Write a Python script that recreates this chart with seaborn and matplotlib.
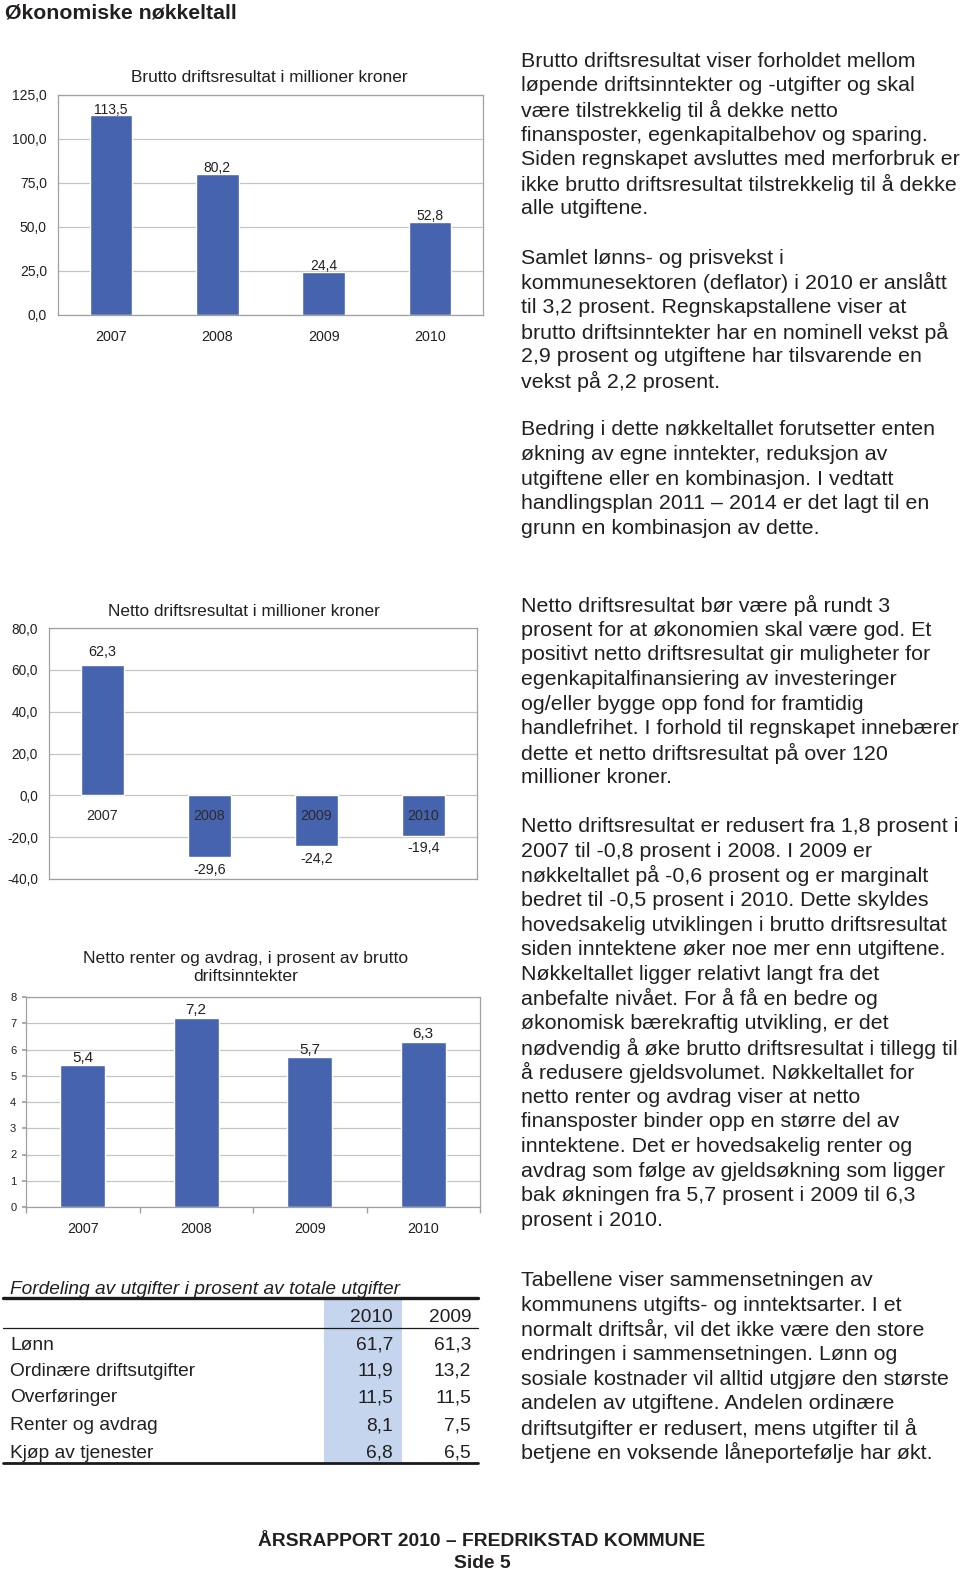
import matplotlib
matplotlib.use('Agg')
import matplotlib.pyplot as plt
import seaborn as sns
import numpy as np
from matplotlib.lines import Line2D
from matplotlib.patches import Rectangle

# ---------------- data ----------------
years = ["2007", "2008", "2009", "2010"]
brutto = [113.5, 80.2, 24.4, 52.8]
netto = [62.3, -29.6, -24.2, -19.4]
renter = [5.4, 7.2, 5.7, 6.3]

table_rows = ["Lønn", "Ordinære driftsutgifter", "Overføringer", "Renter og avdrag", "Kjøp av tjenester"]
table_2010 = [61.7, 11.9, 11.5, 8.1, 6.8]
table_2009 = [61.3, 13.2, 11.5, 7.5, 6.5]
table_cols = ["2010", "2009"]

paragraphs = [
    ["Brutto driftsresultat viser forholdet mellom",
     "løpende driftsinntekter og -utgifter og skal",
     "være tilstrekkelig til å dekke netto",
     "finansposter, egenkapitalbehov og sparing.",
     "Siden regnskapet avsluttes med merforbruk er",
     "ikke brutto driftsresultat tilstrekkelig til å dekke",
     "alle utgiftene."],
    ["Samlet lønns- og prisvekst i",
     "kommunesektoren (deflator) i 2010 er anslått",
     "til 3,2 prosent. Regnskapstallene viser at",
     "brutto driftsinntekter har en nominell vekst på",
     "2,9 prosent og utgiftene har tilsvarende en",
     "vekst på 2,2 prosent."],
    ["Bedring i dette nøkkeltallet forutsetter enten",
     "økning av egne inntekter, reduksjon av",
     "utgiftene eller en kombinasjon. I vedtatt",
     "handlingsplan 2011 – 2014 er det lagt til en",
     "grunn en kombinasjon av dette."],
    ["Netto driftsresultat bør være på rundt 3",
     "prosent for at økonomien skal være god. Et",
     "positivt netto driftsresultat gir muligheter for",
     "egenkapitalfinansiering av investeringer",
     "og/eller bygge opp fond for framtidig",
     "handlefrihet. I forhold til regnskapet innebærer",
     "dette et netto driftsresultat på over 120",
     "millioner kroner."],
    ["Netto driftsresultat er redusert fra 1,8 prosent i",
     "2007 til -0,8 prosent i 2008. I 2009 er",
     "nøkkeltallet på -0,6 prosent og er marginalt",
     "bedret til -0,5 prosent i 2010. Dette skyldes",
     "hovedsakelig utviklingen i brutto driftsresultat",
     "siden inntektene øker noe mer enn utgiftene.",
     "Nøkkeltallet ligger relativt langt fra det",
     "anbefalte nivået. For å få en bedre og",
     "økonomisk bærekraftig utvikling, er det",
     "nødvendig å øke brutto driftsresultat i tillegg til",
     "å redusere gjeldsvolumet. Nøkkeltallet for",
     "netto renter og avdrag viser at netto",
     "finansposter binder opp en større del av",
     "inntektene. Det er hovedsakelig renter og",
     "avdrag som følge av gjeldsøkning som ligger",
     "bak økningen fra 5,7 prosent i 2009 til 6,3",
     "prosent i 2010."],
    ["Tabellene viser sammensetningen av",
     "kommunens utgifts- og inntektsarter. I et",
     "normalt driftsår, vil det ikke være den store",
     "endringen i sammensetningen. Lønn og",
     "sosiale kostnader vil alltid utgjøre den største",
     "andelen av utgiftene. Andelen ordinære",
     "driftsutgifter er redusert, mens utgifter til å",
     "betjene en voksende låneportefølje har økt."],
]
para_start = [61.3, 258.2, 429.9, 605.7, 826.7, 1280.7]
chart3_title = ["Netto renter og avdrag, i prosent av brutto", "driftsinntekter"]

# ---------------- style ----------------
sns.set_theme(style='white')
plt.rcParams['font.family'] = ['Liberation Sans', 'DejaVu Sans']
BAR = '#4664ad'
GRID = '#c4c4c4'
SPINE = '#a0a0a0'
TXT = '#231f20'

W, H = 960, 1575
fig = plt.figure(figsize=(W / 100, H / 100), dpi=100)
fig.patch.set_facecolor('white')


def px_axes(l, t, r, b):
    return fig.add_axes([l / W, 1 - b / H, (r - l) / W, (b - t) / H])


def fmt(v):
    return f"{v:.1f}".replace('.', ',')


def fy(y):
    return 1 - y / H


# page title
fig.text(5 / W, fy(13), "Økonomiske nøkkeltall", fontsize=15.3, fontweight='bold',
         color=TXT, va='center', ha='left')

# ---------------- chart 1 ----------------
ax1 = px_axes(58, 95, 483, 315)
sns.barplot(x=years, y=brutto, ax=ax1, color=BAR, saturation=1, width=0.4)
ax1.set_ylim(0, 125)
yt = np.arange(0, 126, 25)
ax1.set_yticks(yt)
ax1.set_yticklabels([fmt(v) for v in yt])
ax1.set_axisbelow(True)
ax1.yaxis.grid(True, color=GRID, lw=0.9)
for s in ax1.spines.values():
    s.set_color(SPINE)
    s.set_linewidth(0.9)
ax1.tick_params(axis='y', length=0, pad=8, labelsize=10, labelcolor=TXT)
ax1.tick_params(axis='x', length=0, pad=10.5, labelsize=10.3, labelcolor=TXT)
ax1.set_xlabel('')
ax1.set_ylabel('')
ax1.bar_label(ax1.containers[0], labels=[fmt(v) for v in brutto], padding=-1,
              fontsize=10, color=TXT)
fig.text(269 / W, fy(78), "Brutto driftsresultat i millioner kroner", fontsize=12.4,
         color=TXT, ha='center', va='center')

# ---------------- chart 2 ----------------
ax2 = px_axes(49, 628, 477, 879)
sns.barplot(x=years, y=netto, ax=ax2, color=BAR, saturation=1, width=0.4)
ax2.set_ylim(-40, 80)
yt2 = np.arange(-40, 81, 20)
ax2.set_yticks(yt2)
ax2.set_yticklabels([fmt(v) for v in yt2])
ax2.set_axisbelow(True)
ax2.yaxis.grid(True, color=GRID, lw=0.9)
for s in ax2.spines.values():
    s.set_color(SPINE)
    s.set_linewidth(0.9)
ax2.tick_params(axis='y', length=0, pad=8, labelsize=9.8, labelcolor=TXT)
ax2.tick_params(axis='x', length=0, labelbottom=False)
ax2.set_xlabel('')
ax2.set_ylabel('')
ax2.bar_label(ax2.containers[0], labels=[fmt(v) for v in netto], padding=4,
              fontsize=10.3, color=TXT)
for i, yr in enumerate(years):
    ax2.annotate(yr, (i, 0), xytext=(0, -9.5), textcoords='offset points',
                 ha='center', va='top', fontsize=10.3, color='#2a2a2a', zorder=5)
fig.text(244 / W, fy(612), "Netto driftsresultat i millioner kroner", fontsize=12.4,
         color=TXT, ha='center', va='center')

# ---------------- chart 3 ----------------
ax3 = px_axes(26, 997, 480, 1207)
sns.barplot(x=years, y=renter, ax=ax3, color=BAR, saturation=1, width=0.4)
ax3.set_ylim(0, 8)
ax3.set_yticks(np.arange(0, 9, 1))
ax3.set_axisbelow(True)
ax3.yaxis.grid(True, color=GRID, lw=0.9)
for s in ax3.spines.values():
    s.set_color(SPINE)
    s.set_linewidth(0.9)
ax3.set_xticks(np.arange(-0.5, 4, 1.0), minor=True)
ax3.tick_params(axis='x', which='major', length=0, pad=10.5, labelsize=10.3, labelcolor=TXT)
ax3.tick_params(axis='x', which='minor', length=4, color=SPINE, bottom=True)
ax3.tick_params(axis='y', length=3, color=SPINE, pad=4, labelsize=8, labelcolor=TXT, left=True)
ax3.set_xlabel('')
ax3.set_ylabel('')
ax3.bar_label(ax3.containers[0], labels=[fmt(v) for v in renter], padding=0.5,
              fontsize=11, color=TXT)
for k, (line, y) in enumerate(zip(chart3_title, [958, 977])):
    fig.text(246 / W, fy(y), line, fontsize=12.6, color=TXT, ha='center', va='center')

# ---------------- table ----------------
TFS = 13.8
fig.text(10 / W, fy(1289), "Fordeling av utgifter i prosent av totale utgifter",
         fontsize=TFS, style='italic', color=TXT, ha='left', va='center')
fig.add_artist(Rectangle((324 / W, fy(1463)), 78 / W, 165 / H, transform=fig.transFigure,
                         facecolor='#c6d5ee', edgecolor='none', zorder=0))
fig.add_artist(Line2D([3 / W, 478 / W], [fy(1298), fy(1298)], color='#1a1a1a', lw=2.4))
fig.add_artist(Line2D([3 / W, 478 / W], [fy(1328), fy(1328)], color='#1a1a1a', lw=0.9))
fig.add_artist(Line2D([3 / W, 478 / W], [fy(1463), fy(1463)], color='#1a1a1a', lw=2.0))
fig.text(393 / W, fy(1318), table_cols[0], fontsize=TFS, color=TXT, ha='right', va='center')
fig.text(471 / W, fy(1318), table_cols[1], fontsize=TFS, color=TXT, ha='right', va='center')
row_y = [1345, 1371, 1398, 1426, 1453]
for name, a, b, y in zip(table_rows, table_2010, table_2009, row_y):
    fig.text(10 / W, fy(y), name, fontsize=TFS, color=TXT, ha='left', va='center')
    fig.text(393 / W, fy(y), fmt(a), fontsize=TFS, color=TXT, ha='right', va='center')
    fig.text(471 / W, fy(y), fmt(b), fontsize=TFS, color=TXT, ha='right', va='center')

# ---------------- right text ----------------
LS = 24.6
for start, lines in zip(para_start, paragraphs):
    for j, line in enumerate(lines):
        fig.text(521 / W, fy(start + j * LS), line, fontsize=15.4, color=TXT,
                 ha='left', va='center')

# ---------------- footer ----------------
fig.text(482 / W, fy(1542), "ÅRSRAPPORT 2010 – FREDRIKSTAD KOMMUNE", fontsize=13.9,
         fontweight='bold', color=TXT, ha='center', va='center')
fig.text(482 / W, fy(1564), "Side 5", fontsize=13.9, fontweight='bold', color=TXT,
         ha='center', va='center')

fig.savefig('out.png', dpi=100, facecolor='white')
